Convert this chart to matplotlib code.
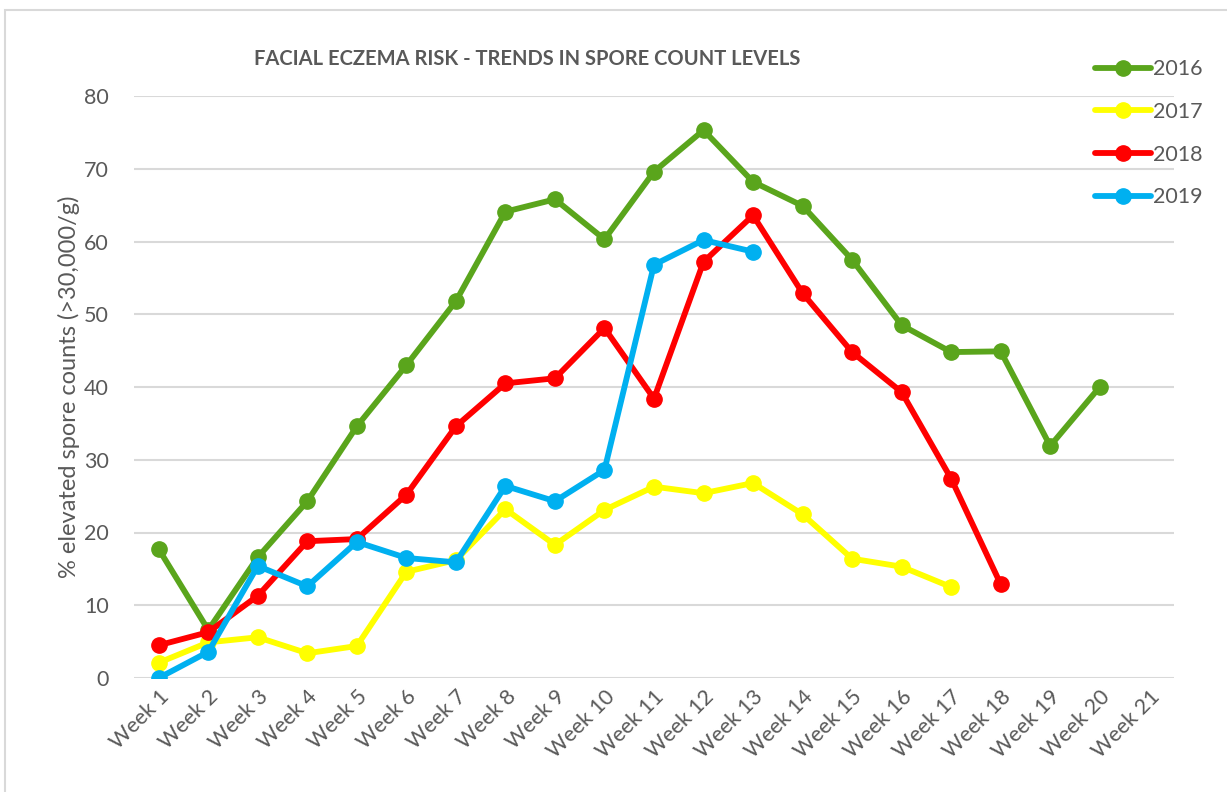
import matplotlib.pyplot as plt
import numpy as np
from matplotlib.patches import Rectangle

plt.rcParams['font.family'] = ['Lato', 'DejaVu Sans']

weeks = ["Week %d" % i for i in range(1, 22)]

# % elevated spore counts per week
y2016 = [17.7, 6.6, 16.6, 24.3, 34.6, 43.0, 51.8, 64.1, 65.8, 60.3, 69.6,
         75.3, 68.2, 64.9, 57.5, 48.5, 44.8, 44.9, 31.9, 40.0]
y2017 = [2.1, 4.9, 5.6, 3.4, 4.4, 14.6, 16.2, 23.2, 18.3, 23.1, 26.3,
         25.4, 26.8, 22.5, 16.4, 15.3, 12.5]
y2018 = [4.5, 6.3, 11.3, 18.8, 19.1, 25.2, 34.6, 40.5, 41.2, 48.1, 38.4,
         57.2, 63.6, 52.9, 44.8, 39.3, 27.4, 12.9]
y2019 = [0.0, 3.6, 15.4, 12.6, 18.7, 16.5, 15.9, 26.4, 24.3, 28.6, 56.8,
         60.2, 58.6]

series = [("2016", y2016, "#5aa51c"),
          ("2017", y2017, "#ffff00"),
          ("2018", y2018, "#ff0000"),
          ("2019", y2019, "#00b0f0")]

text_col = "#595959"

fig = plt.figure(figsize=(12.27, 7.92), dpi=100)
ax = fig.add_axes([134 / 1227, 1 - 678 / 792, (1174 - 134) / 1227, (678 - 96) / 792])

for name, vals, col in series:
    x = np.arange(len(vals))
    ax.plot(x, vals, color=col, lw=4.2, marker='o', markersize=11,
            label=name, solid_capstyle='round', solid_joinstyle='round')

ax.set_xlim(-0.5, len(weeks) - 0.5)
ax.set_ylim(0, 80)
ax.set_yticks(range(0, 81, 10))
ax.set_xticks(range(len(weeks)))
ax.set_xticklabels(weeks, rotation=45, ha='right', rotation_mode='anchor')
ax.tick_params(axis='both', length=0, colors=text_col, labelsize=15.5)
ax.tick_params(axis='y', pad=18)
ax.tick_params(axis='x', pad=6)
ax.yaxis.grid(True, color='#d9d9d9', lw=1.5)
ax.set_axisbelow(True)
for s in ax.spines.values():
    s.set_visible(False)

ax.set_ylabel("% elevated spore counts (>30,000/g)", color=text_col,
              fontsize=17, labelpad=3)

fig.text(527 / 1227, 1 - 59 / 792, "FACIAL ECZEMA RISK - TRENDS IN SPORE COUNT LEVELS",
         ha='center', va='center', fontsize=14.5, fontweight='bold', color=text_col)

leg = fig.legend(loc='upper left', bbox_to_anchor=(1076 / 1227, 1 - 40 / 792),
                 frameon=False, fontsize=15.5, labelcolor=text_col,
                 handlelength=2.6, labelspacing=1.05, handletextpad=0.1)

fig.patches.append(Rectangle((5 / 1227, -0.1), 1.2, 1 - 10 / 792 + 0.1,
                             transform=fig.transFigure, fill=False,
                             edgecolor='#d9d9d9', lw=1.5))

fig.savefig("out.png", dpi=100)
